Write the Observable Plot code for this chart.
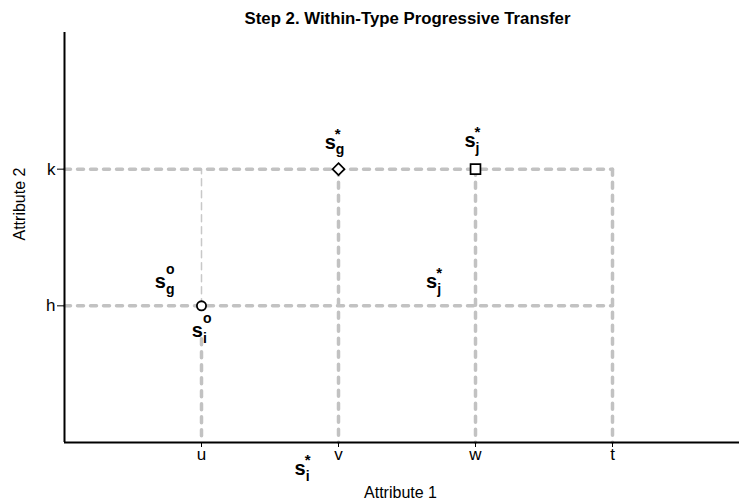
<!DOCTYPE html>
<html>
<head>
<meta charset="utf-8">
<script src="https://cdn.jsdelivr.net/npm/d3@7"></script>
<script src="https://cdn.jsdelivr.net/npm/@observablehq/plot@0.6"></script>
<style>
  html, body { margin: 0; padding: 0; background: #fff; }
  #chart { width: 739px; height: 504px; }
</style>
</head>
<body>
<div id="chart"></div>
<script>
// ---- data ----
const titleText = "Step 2. Within-Type Progressive Transfer";
const xAxisLabel = "Attribute 1";
const yAxisLabel = "Attribute 2";

const xTickValues = [1, 2, 3, 4];
const xTickLabels = ["u", "v", "w", "t"];
const yTickValues = [1, 2];
const yTickLabels = ["h", "k"];

const U = 1, V = 2, W = 3, T = 4, H = 1, K = 2;

// thick dashed guide segments
const segX1 = [0, 0, T, W, V, U];
const segY1 = [K, H, K, K, K, 0.76];
const segX2 = [T, T, T, W, V, U];
const segY2 = [K, H, 0, 0, 0, 0];
// thin dashed guide segment
const thinX1 = [U], thinY1 = [H], thinX2 = [U], thinY2 = [K];

// markers
const pointX = [U, V, W];
const pointY = [H, K, K];
const pointShape = ["circle", "diamond2", "square2"];

// labels  s_sub^sup
const labelX = [1.94, 2.96, 0.70, 2.68, 0.97, 1.72];
const labelY = [2.15, 2.16, 1.13, 1.13, 0.77, -0.24];
const labelSub = ["g", "j", "g", "j", "i", "i"];
const labelSup = ["*", "*", "o", "*", "o", "*"];

// ---- build tables ----
const thick = segX1.map((d, i) => ({x1: d, y1: segY1[i], x2: segX2[i], y2: segY2[i]}));
const thin = thinX1.map((d, i) => ({x1: d, y1: thinY1[i], x2: thinX2[i], y2: thinY2[i]}));
const points = pointX.map((d, i) => ({x: d, y: pointY[i], shape: pointShape[i]}));
const labels = labelX.map((d, i) => ({x: d, y: labelY[i], sub: labelSub[i], sup: labelSup[i]}));
const xMap = new Map(xTickValues.map((d, i) => [d, xTickLabels[i]]));
const yMap = new Map(yTickValues.map((d, i) => [d, yTickLabels[i]]));

const gray = "#c2c2c2";
const font = "'Liberation Sans', Arial, Helvetica, sans-serif";

const chart = Plot.plot({
  width: 739,
  height: 504,
  marginLeft: 64,
  marginRight: 0,
  marginTop: 32,
  marginBottom: 62,
  x: {domain: [0, 4.927]},
  y: {domain: [0, 3]},
  style: {fontFamily: font, fontSize: "16px", background: "#fff", color: "#000", overflow: "visible"},
  marks: [
    Plot.link(thin, {x1: "x1", y1: "y1", x2: "x2", y2: "y2", stroke: "#c8c8c8", strokeWidth: 1.5, strokeDasharray: "7,5", strokeLinecap: "round"}),
    Plot.link(thick, {x1: "x1", y1: "y1", x2: "x2", y2: "y2", stroke: gray, strokeWidth: 3.5, strokeDasharray: "6,7", strokeLinecap: "round"}),
    Plot.dot(points.filter(d => d.shape === "circle"), {x: "x", y: "y", symbol: "circle", r: 4.6, stroke: "#000", strokeWidth: 1.8, fill: "#fff"}),
    Plot.dot(points.filter(d => d.shape === "diamond2"), {x: "x", y: "y", symbol: "diamond2", r: 5.4, stroke: "#000", strokeWidth: 1.7, fill: "#fff"}),
    Plot.dot(points.filter(d => d.shape === "square2"), {x: "x", y: "y", symbol: "square2", r: 6.3, stroke: "#000", strokeWidth: 1.7, fill: "#fff"}),
    // labels
    Plot.text(labels, {x: "x", y: "y", text: () => "s", fontSize: 20, fontWeight: "bold", lineAnchor: "bottom", textAnchor: "middle"}),
    Plot.text(labels.filter(d => d.sup === "o"), {x: "x", y: "y", text: "sup", fontSize: 14, fontWeight: "bold", lineAnchor: "bottom", textAnchor: "start", dx: 5.5, dy: -14}),
    Plot.text(labels.filter(d => d.sup === "*"), {x: "x", y: "y", text: "sup", fontSize: 15, fontWeight: "bold", lineAnchor: "bottom", textAnchor: "start", dx: 4.5, dy: -10}),
    Plot.text(labels, {x: "x", y: "y", text: "sub", fontSize: 14, fontWeight: "bold", lineAnchor: "bottom", textAnchor: "start", dx: 5.5, dy: 5.5}),
    // axes
    Plot.axisX({ticks: xTickValues, tickFormat: d => xMap.get(d), tickSize: 5, tickPadding: 0, fontSize: 17, label: null}),
    Plot.axisY({ticks: yTickValues, tickFormat: d => yMap.get(d), tickSize: 7, tickPadding: 2, fontSize: 17, label: null}),
    Plot.ruleX([0], {stroke: "#000", strokeWidth: 2}),
    Plot.ruleY([0], {stroke: "#000", strokeWidth: 2}),
    // titles
    Plot.text([titleText], {frameAnchor: "top", text: d => d, fontSize: 16.8, fontWeight: "bold", lineAnchor: "bottom", dx: 5.5, dy: -9}),
    Plot.text([xAxisLabel], {frameAnchor: "bottom", text: d => d, fontSize: 16, lineAnchor: "bottom", dx: -1.5, dy: 55}),
    Plot.text([yAxisLabel], {frameAnchor: "left", text: d => d, fontSize: 16, lineAnchor: "bottom", rotate: -90, dx: -39.5, dy: 3})
  ]
});
document.getElementById("chart").appendChild(chart);
</script>
</body>
</html>
